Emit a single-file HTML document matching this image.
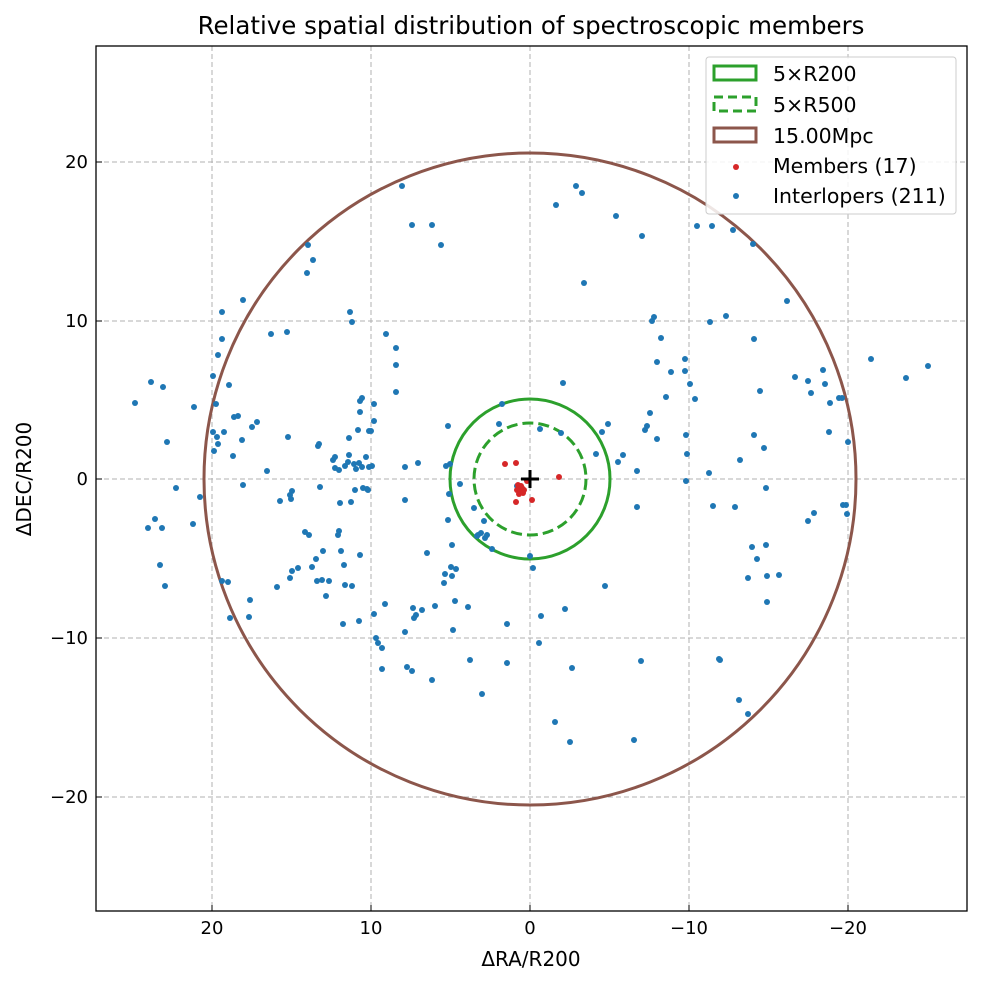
<!DOCTYPE html>
<html><head><meta charset="utf-8"><style>
body{margin:0;background:#fff}
svg{display:block;font-family:"DejaVu Sans","Liberation Sans",sans-serif}
</style></head><body>
<svg id="s" width="982" height="984" viewBox="0 0 982 984" xmlns="http://www.w3.org/2000/svg">
<rect width="982" height="984" fill="#fff"/>
<text x="531" y="34" font-size="24.5" text-anchor="middle">Relative spatial distribution of spectroscopic members</text>
<g stroke="#b0b0b0" stroke-width="1" stroke-dasharray="5,3">
<line x1="212" y1="46" x2="212" y2="911"/><line x1="371" y1="46" x2="371" y2="911"/><line x1="530" y1="46" x2="530" y2="911"/><line x1="689" y1="46" x2="689" y2="911"/><line x1="848" y1="46" x2="848" y2="911"/>
<line x1="96" y1="162" x2="967" y2="162"/><line x1="96" y1="321" x2="967" y2="321"/><line x1="96" y1="479" x2="967" y2="479"/><line x1="96" y1="638" x2="967" y2="638"/><line x1="96" y1="797" x2="967" y2="797"/>
</g>
<circle cx="530" cy="479" r="326" fill="none" stroke="#8c564b" stroke-width="3"/>
<circle cx="530" cy="479" r="80" fill="none" stroke="#2ca02c" stroke-width="3"/>
<circle cx="530" cy="479" r="56" fill="none" stroke="#2ca02c" stroke-width="3" stroke-dasharray="11,5"/>
<g id="blue" fill="#1f77b4"></g>
<g id="red" fill="#d62728"></g>
<g stroke="#000" stroke-width="3"><line x1="521" y1="479" x2="539" y2="479"/><line x1="530" y1="470" x2="530" y2="488"/></g>
<rect x="96" y="46" width="871" height="865" fill="none" stroke="#000" stroke-width="1.3"/>
<g stroke="#000" stroke-width="1">
<line x1="212" y1="911" x2="212" y2="905"/><line x1="371" y1="911" x2="371" y2="905"/><line x1="530" y1="911" x2="530" y2="905"/><line x1="689" y1="911" x2="689" y2="905"/><line x1="848" y1="911" x2="848" y2="905"/>
<line x1="96" y1="162" x2="102" y2="162"/><line x1="96" y1="321" x2="102" y2="321"/><line x1="96" y1="479" x2="102" y2="479"/><line x1="96" y1="638" x2="102" y2="638"/><line x1="96" y1="797" x2="102" y2="797"/>
</g>
<g font-size="18" text-anchor="middle">
<text x="212" y="934">20</text><text x="371" y="934">10</text><text x="530" y="934">0</text><text x="689" y="934">−10</text><text x="848" y="934">−20</text>
</g>
<text x="531" y="966" font-size="20" text-anchor="middle">ΔRA/R200</text>
<g font-size="18" text-anchor="end">
<text x="88" y="168">20</text><text x="88" y="327">10</text><text x="88" y="485">0</text><text x="88" y="644">−10</text><text x="88" y="803">−20</text>
</g>
<text transform="translate(31,479) rotate(-90)" font-size="20" text-anchor="middle">ΔDEC/R200</text>
<rect x="706" y="57" width="250" height="157" rx="3" fill="#fff" fill-opacity="0.85" stroke="#ccc"/>
<rect x="714" y="66" width="42" height="14" fill="none" stroke="#2ca02c" stroke-width="3"/>
<rect x="714" y="97" width="42" height="14" fill="none" stroke="#2ca02c" stroke-width="3" stroke-dasharray="9,5"/>
<rect x="714" y="128" width="42" height="14" fill="none" stroke="#8c564b" stroke-width="3"/>
<circle cx="736" cy="167" r="3" fill="#d62728"/>
<circle cx="736" cy="196" r="3" fill="#1f77b4"/>
<g font-size="20.5">
<text x="773" y="81">5×R200</text><text x="773" y="112">5×R500</text><text x="773" y="143">15.00Mpc</text><text x="773" y="173">Members (17)</text><text x="773" y="203">Interlopers (211)</text>
</g>
</svg>
<script>
var b=[[402,186],[432,225],[412,225],[441,245],[308,245],[313,260],[556,205],[576,186],[582,193],[616,216],[642,236],[584,283],[697,226],[712,226],[733,230],[753,244],[307,273],[350,312],[271,334],[287,332],[243,300],[352,322],[386,334],[396,348],[396,365],[396,392],[374,404],[362,398],[360,401],[222,312],[222,339],[218,355],[213,376],[216,404],[213,432],[229,385],[217,437],[218,444],[224,432],[242,440],[238,416],[252,427],[257,422],[234,417],[214,451],[194,407],[151,382],[163,387],[135,403],[167,442],[200,497],[176,488],[233,456],[243,485],[267,471],[280,501],[288,437],[318,446],[319,444],[320,487],[333,460],[335,457],[335,468],[339,470],[345,466],[348,462],[349,455],[356,469],[354,464],[359,463],[349,438],[358,430],[360,412],[369,431],[366,457],[351,502],[355,490],[340,503],[339,531],[338,535],[341,551],[344,565],[323,551],[329,581],[326,596],[322,580],[345,585],[352,586],[360,555],[363,488],[367,489],[372,466],[368,490],[369,467],[374,421],[371,431],[362,467],[405,467],[405,500],[418,463],[446,466],[449,494],[460,484],[292,491],[290,495],[291,499],[305,532],[309,535],[298,568],[292,571],[290,578],[312,567],[316,559],[317,581],[222,581],[162,528],[165,586],[160,565],[148,528],[155,519],[193,524],[277,587],[250,600],[249,617],[230,618],[228,582],[374,614],[385,604],[376,638],[378,643],[382,648],[382,669],[359,621],[343,624],[413,608],[422,610],[416,615],[414,618],[405,632],[407,667],[412,671],[432,680],[435,606],[444,583],[445,574],[452,576],[452,545],[451,567],[456,569],[448,520],[427,553],[468,607],[470,660],[482,694],[474,508],[478,535],[484,521],[485,538],[477,536],[481,533],[487,535],[453,630],[455,601],[492,549],[507,624],[507,663],[530,556],[533,568],[541,616],[539,643],[555,722],[565,609],[572,668],[605,586],[641,661],[634,740],[570,742],[448,426],[502,404],[540,429],[561,433],[563,383],[596,454],[602,432],[608,424],[623,455],[618,462],[637,471],[637,507],[645,430],[647,426],[650,413],[657,439],[666,397],[671,372],[657,362],[652,321],[654,317],[661,338],[685,371],[685,359],[687,454],[690,384],[695,399],[710,322],[726,316],[740,460],[735,507],[754,339],[754,435],[760,391],[764,448],[766,488],[787,301],[795,377],[808,381],[811,393],[823,370],[829,432],[825,384],[830,403],[842,398],[839,398],[843,505],[846,505],[848,442],[847,514],[871,359],[906,378],[928,366],[766,545],[752,547],[757,559],[748,578],[720,660],[767,576],[808,521],[814,513],[686,435],[686,481],[713,506],[719,659],[739,700],[748,714],[767,602],[779,575],[709,473],[517,486],[450,464],[499,424]];
var r=[[505,464],[516,463],[559,477],[517,490],[520,491],[516,502],[532,500],[522,488],[519,494],[523,493],[518,485],[527,481],[521,486],[524,490]];
function add(id,a){var g=document.getElementById(id),h='';a.forEach(function(p){h+='<circle cx="'+p[0]+'" cy="'+p[1]+'" r="3"/>'});g.innerHTML=h;}
add('blue',b);add('red',r);
</script>
</body></html>
